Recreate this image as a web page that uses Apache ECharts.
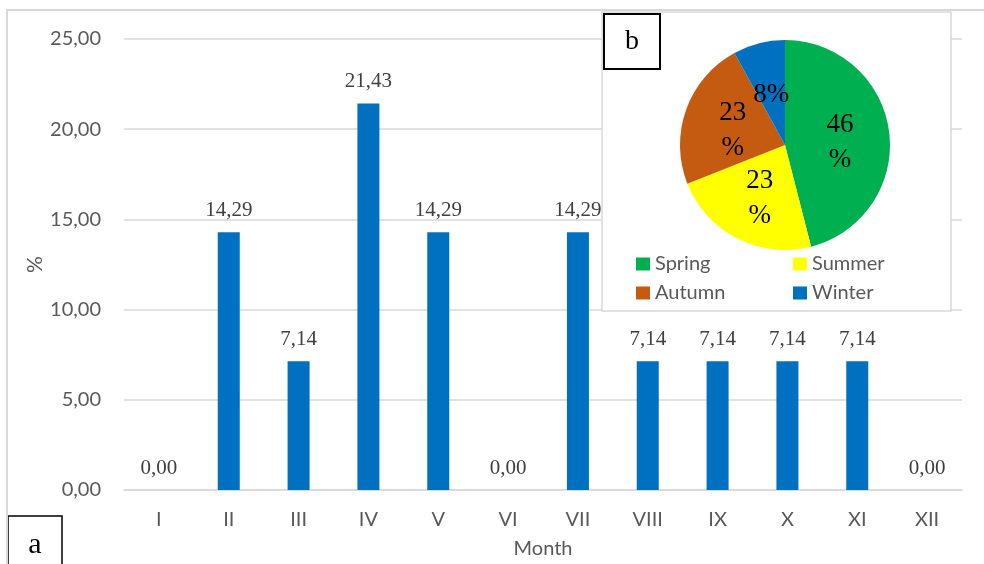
<!DOCTYPE html>
<html>
<head>
<meta charset="utf-8">
<script src="https://cdn.jsdelivr.net/npm/echarts@6/dist/echarts.min.js"></script>
<style>
  html, body { margin: 0; padding: 0; background: #ffffff; }
  #chart { width: 984px; height: 564px; }
</style>
</head>
<body>
<div id="chart"></div>
<script>
// Monthly share of events (%), panel a
const months = ['I', 'II', 'III', 'IV', 'V', 'VI', 'VII', 'VIII', 'IX', 'X', 'XI', 'XII'];
const monthShare = [0.00, 14.29, 7.14, 21.43, 14.29, 0.00, 14.29, 7.14, 7.14, 7.14, 7.14, 0.00];

// Seasonal share (%), panel b
const seasons = ['Spring', 'Summer', 'Autumn', 'Winter'];
const seasonShare = [46, 23, 23, 8];
const seasonColors = ['#00B050', '#FFFF00', '#C55A11', '#0070C0'];

// Y axis range
const yMin = 0, yMax = 25, yStep = 5;

const comma = v => Number(v).toFixed(2).replace('.', ',');
const sansFont = 'Lato, "Open Sans", sans-serif';
const serifFont = '"Liberation Serif", "DejaVu Serif", serif';

const chart = echarts.init(document.getElementById('chart'), null, { renderer: 'canvas' });

chart.setOption({
  animation: false,
  backgroundColor: '#ffffff',
  grid: { left: 124, right: 22, top: 39, bottom: 74, containLabel: false },
  xAxis: {
    type: 'category',
    data: months,
    name: 'Month',
    nameLocation: 'middle',
    nameGap: 49,
    nameMoveOverlap: false,
    nameTextStyle: { fontFamily: sansFont, fontSize: 20, color: '#595959' },
    axisLine: { show: true, lineStyle: { color: '#d9d9d9', width: 1.5 } },
    axisTick: { show: false },
    axisLabel: { margin: 20, fontFamily: sansFont, fontSize: 20, color: '#595959' }
  },
  yAxis: {
    type: 'value',
    min: yMin, max: yMax, interval: yStep,
    name: '%',
    nameLocation: 'middle',
    nameGap: 78,
    nameRotate: 90,
    nameMoveOverlap: false,
    nameTextStyle: { fontFamily: sansFont, fontSize: 21, color: '#595959' },
    axisLine: { show: false },
    axisTick: { show: false },
    splitLine: { lineStyle: { color: '#d9d9d9', width: 1.5 } },
    axisLabel: { margin: 23, fontFamily: sansFont, fontSize: 20, color: '#595959', formatter: comma }
  },
  legend: [
    {
      data: [seasons[0], seasons[2]],
      orient: 'vertical', left: 636, top: 254, padding: 0,
      itemWidth: 14, itemHeight: 13, itemGap: 9, icon: 'rect', z: 60,
      textStyle: { fontFamily: sansFont, fontSize: 20, lineHeight: 20, color: '#595959' }
    },
    {
      data: [seasons[1], seasons[3]],
      orient: 'vertical', left: 793, top: 254, padding: 0,
      itemWidth: 14, itemHeight: 13, itemGap: 9, icon: 'rect', z: 60,
      textStyle: { fontFamily: sansFont, fontSize: 20, lineHeight: 20, color: '#595959' }
    }
  ],
  series: [
    {
      type: 'bar',
      data: monthShare,
      barWidth: 22,
      itemStyle: { color: '#0070C0' },
      label: {
        show: true, position: 'top', distance: 11,
        fontFamily: serifFont, fontSize: 21, color: '#404040',
        formatter: p => comma(p.value)
      }
    },
    {
      type: 'pie',
      z: 60,
      center: [785, 145],
      radius: [0, 105],
      startAngle: 90,
      clockwise: true,
      percentPrecision: 0,
      avoidLabelOverlap: false,
      data: seasons.map((s, i) => ({ name: s, value: seasonShare[i], itemStyle: { color: seasonColors[i] } })),
      label: {
        show: true, position: 'inside',
        formatter: '{d}%',
        width: 42, overflow: 'breakAll',
        offset: [0, 4],
        fontFamily: serifFont, fontSize: 27, lineHeight: 35, color: '#000000'
      },
      labelLine: { show: false },
      labelLayout: { hideOverlap: false },
      emphasis: { disabled: true }
    }
  ],
  graphic: [
    {
      type: 'polyline', z: 100,
      shape: { points: [[7, 564], [7, 10], [984, 10]] },
      style: { stroke: '#d9d9d9', lineWidth: 2, fill: null }
    },
    {
      type: 'rect', z: 50,
      shape: { x: 602, y: 12, width: 349, height: 299 },
      style: { fill: '#ffffff', stroke: '#d9d9d9', lineWidth: 1.5 }
    },
    {
      type: 'rect', z: 70,
      shape: { x: 604, y: 14, width: 56, height: 55 },
      style: { fill: '#ffffff', stroke: '#000000', lineWidth: 2 }
    },
    {
      type: 'text', z: 71, x: 632, y: 42,
      style: { text: 'b', font: '28px ' + serifFont, fill: '#000000', align: 'center', verticalAlign: 'middle', textAlign: 'center', textVerticalAlign: 'middle' }
    },
    {
      type: 'rect', z: 70,
      shape: { x: 8, y: 516, width: 54, height: 60 },
      style: { fill: '#ffffff', stroke: '#000000', lineWidth: 1.5 }
    },
    {
      type: 'text', z: 71, x: 35, y: 545,
      style: { text: 'a', font: '30px ' + serifFont, fill: '#000000', align: 'center', verticalAlign: 'middle', textAlign: 'center', textVerticalAlign: 'middle' }
    }
  ]
});
</script>
</body>
</html>
